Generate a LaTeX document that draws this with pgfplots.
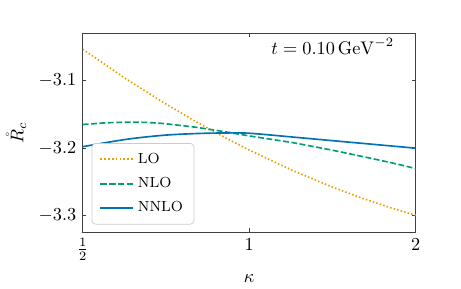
\documentclass[border=0pt]{standalone}
\usepackage{pgfplots}
\pgfplotsset{compat=1.18}
\usepackage{amsmath}
\definecolor{loorange}{RGB}{230,159,0}
\definecolor{nlogreen}{RGB}{0,158,115}
\definecolor{nnloblue}{RGB}{0,114,178}
\begin{document}
\begin{tikzpicture}
\path (-42.2pt,-26.5pt) rectangle (207pt,127pt);
\begin{axis}[
  scale only axis,
  width=182.2pt, height=108.9pt,
  at={(0,0)}, anchor=south west,
  xmode=log, log basis x=2,
  xmin=0.5, xmax=2,
  ymin=-3.325, ymax=-3.029,
  xtick={0.5,1,2},
  xticklabels={$\frac{1}{2}$,$1$,$2$},
  xminorticks=false,
  ytick={-3.3,-3.2,-3.1},
  yticklabel style={/pgf/number format/fixed,/pgf/number format/precision=1},
  tick align=inside,
  major tick length=2pt,
  axis line style={black!75},
  every tick/.style={black!75},
  xlabel={$\kappa$},
  ylabel={$\mathring{R}_c$},
  xlabel style={yshift=-1pt},
  legend style={at={(0.027,0.038)}, anchor=south west, draw=black!20, rounded corners=2pt, font=\footnotesize, row sep=2.2pt, inner xsep=4pt, inner ysep=3.2pt},
  legend cell align=left,
  legend image code/.code={\draw[#1] (0pt,0pt) -- (18pt,0pt);},
]
\addlegendimage{draw=loorange, line width=1.1pt, dash pattern=on 0.9pt off 1.2pt}
\addlegendentry{LO}
\addlegendimage{draw=nlogreen, line width=1.1pt, dash pattern=on 3.4pt off 1.5pt}
\addlegendentry{NLO}
\addlegendimage{draw=nnloblue, line width=1.1pt}
\addlegendentry{NNLO}
\addplot[draw=loorange, line width=0.9pt, dash pattern=on 0.8pt off 1.2pt, forget plot] coordinates {
(0.5,-3.053) (0.6,-3.0976) (0.7,-3.1324) (0.8,-3.1605) (0.9,-3.1836) (1.0,-3.203)
(1.2,-3.2336) (1.4,-3.2567) (1.6,-3.2746) (1.8,-3.2887) (2.0,-3.300)};
\addplot[draw=nlogreen, line width=0.9pt, dash pattern=on 3.2pt off 1.4pt, forget plot] coordinates {
(0.5,-3.165) (0.55,-3.1625) (0.6,-3.1615) (0.65,-3.1618) (0.7,-3.1635) (0.8,-3.169) (0.9,-3.1755) (1.0,-3.182)
(1.2,-3.192) (1.4,-3.2025) (1.6,-3.2125) (1.8,-3.2215) (2.0,-3.2305)};
\addplot[draw=nnloblue, line width=0.9pt, smooth, forget plot] coordinates {
(0.5,-3.198) (0.6,-3.187) (0.7,-3.181) (0.8,-3.1785) (0.9,-3.1776) (1.0,-3.178)
(1.2,-3.1837) (1.4,-3.1887) (1.6,-3.193) (1.8,-3.1968) (2.0,-3.2002)};
\node[anchor=center] at (axis description cs:0.751,0.934) {$t = 0.10\,\mathrm{GeV}^{-2}$};
\end{axis}
\end{tikzpicture}
\end{document}
